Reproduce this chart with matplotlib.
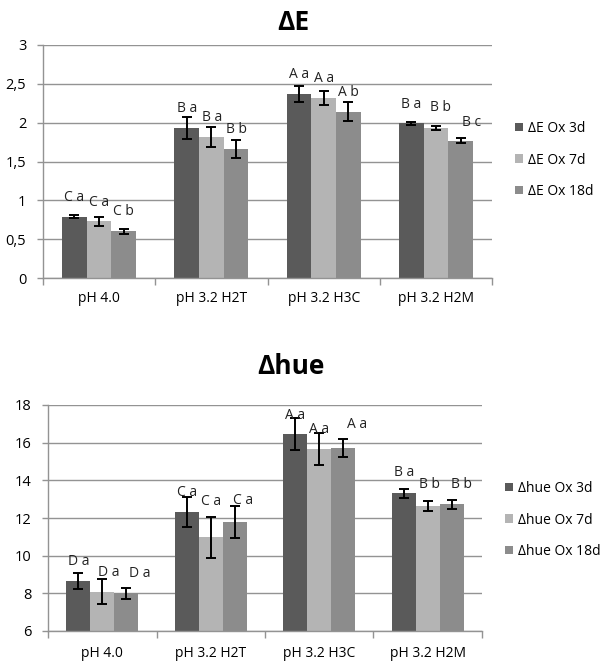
import matplotlib
matplotlib.use("Agg")
import matplotlib.pyplot as plt
import numpy as np
from matplotlib.ticker import FixedLocator, FuncFormatter

plt.rcParams['font.family'] = ['Open Sans', 'DejaVu Sans']

categories = ["pH 4.0", "pH 3.2 H2T", "pH 3.2 H3C", "pH 3.2 H2M"]

de_labels = ["ΔE Ox 3d", "ΔE Ox 7d", "ΔE Ox 18d"]
de_3d = [0.79, 1.93, 2.37, 1.99]
de_7d = [0.73, 1.82, 2.32, 1.93]
de_18d = [0.60, 1.66, 2.14, 1.77]
de_err_3d = [0.02, 0.14, 0.10, 0.02]
de_err_7d = [0.06, 0.13, 0.09, 0.03]
de_err_18d = [0.03, 0.12, 0.12, 0.035]
de_let_3d = ["C a", "B a", "A a", "B a"]
de_let_7d = ["C a", "B a", "A a", "B b"]
de_let_18d = ["C b", "B b", "A b", "B c"]

hue_labels = ["Δhue Ox 3d", "Δhue Ox 7d", "Δhue Ox 18d"]
hue_3d = [8.67, 12.34, 16.46, 13.31]
hue_7d = [8.09, 10.97, 15.66, 12.64]
hue_18d = [8.00, 11.77, 15.70, 12.73]
hue_err_3d = [0.42, 0.80, 0.85, 0.24]
hue_err_7d = [0.65, 1.10, 0.85, 0.25]
hue_err_18d = [0.28, 0.85, 0.47, 0.24]
hue_let_3d = ["D a", "C a", "A a", "B a"]
hue_let_7d = ["D a", "C a", "A a", "B b"]
hue_let_18d = ["D a", "C a", "A a", "B b"]

# label placement tweaks (pixels): horizontal shift and height above bar top
de_dx = [[0, 0, 0, 0], [0, 1, 0, 5], [0, 0, 0, 11]]
de_dy = [[12, 12, 12, 11], [11, 12, 12, 13], [12, 12, 12, 11]]
hue_dx = [[0, 0, 0, 0], [6, 0, 0, 2], [14, 8, 14, 10]]
hue_dy = [[12, 12, 11, 13], [12, 28, 12, 14], [12, 14, 16, 12]]

colors = ["#5a5a5a", "#b4b4b4", "#8c8c8c"]
grid_c = "#939393"

W, H = 602, 666
fig = plt.figure(figsize=(W / 100, H / 100), dpi=100)
PX = 72 / 100  # points per pixel


def rect(l, t, r, b):
    return [l / W, 1 - b / H, (r - l) / W, (b - t) / H]


def panel(ax, series, errs, lets, dxs, dys, labels, ylim, yticks, fmt, title,
          title_xy, leg_xy, xpad):
    x = np.arange(len(categories))
    bw = 0.22
    handles = []
    for j, (vals, er, lt) in enumerate(zip(series, errs, lets)):
        xs = x + (j - 1) * bw
        b = ax.bar(xs, vals, width=bw, color=colors[j], zorder=2, label=labels[j])
        handles.append(b)
        ax.errorbar(xs, vals, yerr=er, fmt='none', ecolor='black', elinewidth=1.4,
                    capsize=3.5, capthick=1.4, zorder=3)
        for k, (xi, v, t) in enumerate(zip(xs, vals, lt)):
            ax.annotate(t, (xi, v), xytext=(dxs[j][k] * PX, dys[j][k] * PX),
                        textcoords='offset points', ha='center', va='bottom',
                        fontsize=10, color='#222222', zorder=4)
    ax.set_xlim(-0.5, len(categories) - 0.5)
    ax.set_ylim(*ylim)
    ax.yaxis.set_major_locator(FixedLocator(yticks))
    ax.yaxis.set_major_formatter(FuncFormatter(fmt))
    ax.set_xticks(x)
    ax.set_xticklabels(categories, fontsize=10)
    ax.xaxis.set_minor_locator(FixedLocator(np.arange(-0.5, len(categories), 1.0)))
    ax.tick_params(axis='x', which='major', length=0, pad=xpad)
    ax.tick_params(axis='x', which='minor', length=5, color=grid_c, width=1)
    ax.tick_params(axis='y', length=4, color=grid_c, width=1, labelsize=10.5, pad=8)
    ax.grid(axis='y', color=grid_c, linewidth=1, zorder=0)
    ax.set_axisbelow(True)
    for s in ['top', 'right']:
        ax.spines[s].set_visible(False)
    for s in ['left', 'bottom']:
        ax.spines[s].set_color(grid_c)
        ax.spines[s].set_linewidth(1)
    fig.text(title_xy[0] / W, 1 - title_xy[1] / H, title, ha='center', va='center',
             fontsize=19, fontweight='bold')
    fig.legend(handles=handles, labels=labels, loc='center left',
               bbox_to_anchor=(leg_xy[0] / W, 1 - leg_xy[1] / H), frameon=False,
               fontsize=10, handlelength=0.55, handleheight=0.55, handletextpad=0.35,
               labelspacing=1.2, borderpad=0, borderaxespad=0)


def fmt_comma(v, p):
    return ("%g" % v).replace('.', ',')


ax1 = fig.add_axes(rect(43, 45, 492, 278))
panel(ax1, [de_3d, de_7d, de_18d], [de_err_3d, de_err_7d, de_err_18d],
      [de_let_3d, de_let_7d, de_let_18d], de_dx, de_dy, de_labels, (0, 3),
      [0, 0.5, 1, 1.5, 2, 2.5, 3], fmt_comma, "ΔE", (293, 23), (515, 160), 9)

ax2 = fig.add_axes(rect(48, 405, 482, 631))
panel(ax2, [hue_3d, hue_7d, hue_18d], [hue_err_3d, hue_err_7d, hue_err_18d],
      [hue_let_3d, hue_let_7d, hue_let_18d], hue_dx, hue_dy, hue_labels, (6, 18),
      [6, 8, 10, 12, 14, 16, 18], lambda v, p: "%d" % v, "Δhue", (291, 366),
      (505, 520), 11)

fig.savefig("out.png", dpi=100, facecolor='white')
